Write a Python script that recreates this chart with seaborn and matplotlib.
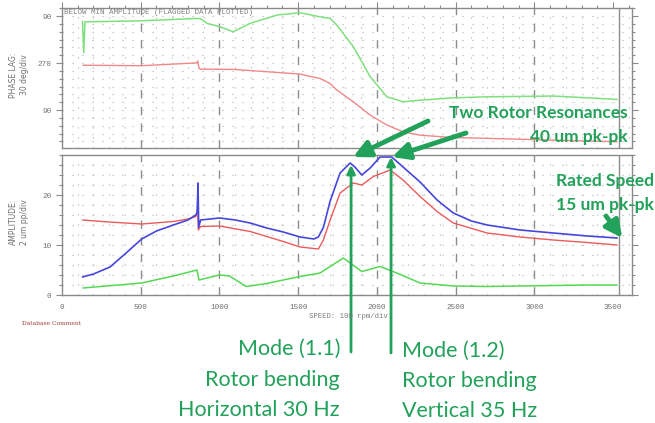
import numpy as np
import pandas as pd
import matplotlib
matplotlib.use("Agg")
import matplotlib.pyplot as plt
import seaborn as sns
from matplotlib.ticker import MultipleLocator, FixedLocator

# ---------------- data ----------------
# Phase lag (deg), top panel
phase_green_rpm = [130, 138, 146, 506, 857, 880, 921, 1000, 1087, 1194, 1366, 1512, 1639,
                   1703, 1745, 1850, 1957, 2063, 2166, 2274, 2485, 2700, 3120, 3526]
phase_green_val = [110, 230, 112, 108, 99, 100, 118, 130, 150, 118, 86, 77, 93,
                   99, 124, 207, 322, 399, 418, 412, 403, 399, 396, 409]

phase_red_rpm = [133, 506, 857, 862, 870, 877, 1087, 1302, 1512, 1639, 1703, 1745, 1850,
                 1957, 2063, 2166, 2274, 2485, 2700, 3120, 3526]
phase_red_val = [278, 280, 269, 262, 290, 293, 294, 303, 312, 329, 348, 373, 418,
                 469, 507, 533, 546, 555, 558, 565, 571]

# Amplitude (um pp), bottom panel
amp_blue_rpm = [130, 200, 305, 400, 506, 600, 707, 800, 850, 858, 864, 868, 880, 1000,
                1100, 1195, 1300, 1405, 1512, 1600, 1628, 1660, 1703, 1766, 1830, 1860,
                1904, 1957, 2020, 2094, 2166, 2274, 2382, 2485, 2600, 2700, 2910, 3120,
                3335, 3526]
amp_blue_val = [3.6, 4.2, 5.6, 8.2, 11.2, 12.8, 14.0, 15.0, 16.0, 16.5, 22.4, 13.5, 15.0, 15.4,
                15.0, 14.4, 13.4, 12.6, 11.6, 11.2, 11.6, 13.5, 18.8, 24.4, 26.4, 25.6,
                24.0, 25.4, 27.6, 27.6, 25.6, 22.6, 19.0, 16.4, 14.8, 14.0, 13.0, 12.4,
                11.8, 11.4]

amp_red_rpm = [130, 300, 506, 707, 800, 850, 862, 866, 880, 1000, 1195, 1405, 1512, 1628,
               1660, 1703, 1766, 1850, 1904, 1978, 2084, 2166, 2274, 2382, 2485, 2700,
               2910, 3120, 3335, 3526]
amp_red_val = [15.0, 14.6, 14.2, 14.7, 15.2, 15.7, 17.0, 13.0, 13.7, 13.8, 12.7, 10.7, 9.6, 9.2,
               11.0, 15.0, 20.4, 22.4, 22.0, 23.7, 25.0, 23.0, 19.7, 16.7, 14.4, 12.4,
               11.6, 11.0, 10.5, 10.0]

amp_green_rpm = [133, 506, 707, 857, 870, 1000, 1064, 1170, 1300, 1405, 1512, 1639, 1787,
                 1904, 2020, 2126, 2274, 2485, 2700, 2910, 3335, 3526]
amp_green_val = [1.4, 2.4, 3.8, 5.0, 3.0, 4.0, 3.8, 1.7, 2.3, 3.0, 3.7, 4.4, 7.4,
                 4.7, 5.7, 4.4, 2.4, 1.8, 1.7, 1.8, 2.0, 2.0]

x_ticks = [0, 500, 1000, 1500, 2000, 2500, 3000, 3500]
x_ticklabels = ["0", "500", "1000", "1500", "2000", "2500", "3000", "3500"]
phase_ticks = [90, 270, 450]
phase_ticklabels = ["90", "270", "90"]
amp_ticks = [0, 10, 20]
amp_ticklabels = ["0", "10", "20"]

mode_speeds = [1836, 2090]        # rpm of the two resonance peaks
mode_amps = [26.0, 27.6]
rated_speed = 3558
rated_amp = 11.4

# ---------------- style ----------------
sns.set_style("white")
plt.rcParams['font.family'] = ['Lato', 'DejaVu Sans']

G = "#21a159"
FRAME = "#8a8a8a"
TXT = "#707070"
MONO = "Liberation Mono"

W, H = 655, 423
fig = plt.figure(figsize=(W / 100, H / 100), dpi=100)
ax1 = fig.add_axes([62 / W, 1 - 148 / H, 570 / W, 140 / H])
ax2 = fig.add_axes([62 / W, 1 - 295 / H, 570 / W, 140 / H])


def px(x, y):
    return (x, H - y)


# ---------------- series ----------------
sns.lineplot(x=phase_green_rpm, y=phase_green_val, ax=ax1, color="#7fe07f", lw=1.1,
             estimator=None, sort=False)
sns.lineplot(x=phase_red_rpm, y=phase_red_val, ax=ax1, color="#f08888", lw=1.0,
             estimator=None, sort=False)

sns.lineplot(x=amp_red_rpm, y=amp_red_val, ax=ax2, color="#ec5a5a", lw=1.0,
             estimator=None, sort=False)
sns.lineplot(x=amp_blue_rpm, y=amp_blue_val, ax=ax2, color="#4646dc", lw=1.2,
             estimator=None, sort=False)
sns.lineplot(x=amp_green_rpm, y=amp_green_val, ax=ax2, color="#55d855", lw=1.1,
             estimator=None, sort=False)

# ---------------- axes cosmetics ----------------
for ax in (ax1, ax2):
    ax.set_xlim(0, 3620)
    ax.set_xlabel("")
    ax.set_ylabel("")
    for s in ax.spines.values():
        s.set_color(FRAME)
        s.set_linewidth(1.0)
    ax.xaxis.set_major_locator(FixedLocator(x_ticks))
    ax.xaxis.set_minor_locator(MultipleLocator(100))
    ax.grid(which="minor", color="#b0b0b0", lw=0.8, linestyle=(0, (1, 8)))
    ax.grid(which="major", axis="y", color="#b0b0b0", lw=0.8, linestyle=(0, (1, 8)))
    for xv in x_ticks[1:-1]:
        ax.axvline(xv, color="#8c8c8c", lw=1.0, linestyle=(0, (6, 6)), zorder=1)
    ax.axvline(3540, color="#8c8c8c", lw=1.0, zorder=1)
    ax.tick_params(which="both", colors=FRAME, labelcolor=TXT, labelsize=5.5,
                   left=True, right=True, width=0.8)
    ax.tick_params(which="major", length=4)
    ax.tick_params(which="minor", length=2.5)
    ax.set_facecolor("white")

ax1.set_ylim(595, 59)
ax1.yaxis.set_major_locator(FixedLocator(phase_ticks))
ax1.set_yticklabels(phase_ticklabels, fontfamily=MONO)
ax1.yaxis.set_minor_locator(MultipleLocator(30))
ax1.tick_params(axis="x", which="both", bottom=False, top=True, labelbottom=False,
                direction="out")
ax1.tick_params(axis="y", which="both", direction="out")

ax2.set_ylim(0, 28)
ax2.yaxis.set_major_locator(FixedLocator(amp_ticks))
ax2.set_yticklabels(amp_ticklabels, fontfamily=MONO)
ax2.yaxis.set_minor_locator(MultipleLocator(2))
ax2.set_xticklabels(x_ticklabels, fontfamily=MONO)
ax2.tick_params(axis="x", which="both", direction="inout", top=False)
ax2.tick_params(axis="y", which="both", direction="out")
ax2.tick_params(axis="x", which="major", length=7, pad=3)
ax2.tick_params(axis="x", which="minor", length=5)

# ---------------- plot texts ----------------
fig.text(64 / W, 1 - 13 / H, "BELOW MIN AMPLITUDE (FLAGGED DATA PLOTTED)", fontfamily=MONO,
         fontsize=5.4, color="#808080", va="center", ha="left")
fig.text(348 / W, 1 - 317 / H, "SPEED: 100 rpm/div", fontfamily=MONO, fontsize=5.3,
         color="#808080", va="center", ha="center")
fig.text(22 / W, 1 - 323 / H, "Database Comment", fontfamily="DejaVu Serif", fontsize=4.3,
         color="#a03535", va="center", ha="left")
fig.text(19 / W, 1 - 75 / H, "PHASE LAG:\n30 deg/div", rotation=90, fontsize=5.5,
         color="#707070", va="center", ha="center", multialignment="center",
         fontfamily="DejaVu Sans")
fig.text(19 / W, 1 - 222 / H, "AMPLITUDE:\n2 um pp/div", rotation=90, fontsize=5.5,
         color="#707070", va="center", ha="center", multialignment="center",
         fontfamily="DejaVu Sans")

# ---------------- annotations ----------------
bold = dict(color=G, fontsize=12.5, fontweight="bold")
fig.text(628 / W, 1 - 113 / H, "Two Rotor Resonances", ha="right", va="center", **bold)
fig.text(628 / W, 1 - 137 / H, "40 um pk-pk", ha="right", va="center", **bold)
fig.text(556 / W, 1 - 181 / H, "Rated Speed", ha="left", va="center", **bold)
fig.text(556 / W, 1 - 205 / H, "15 um pk-pk", ha="left", va="center", **bold)

reg = dict(color=G, fontsize=15.5)
for txt, yy in zip(["Mode (1.1)", "Rotor bending", "Horizontal 30 Hz"], [349, 380, 410]):
    fig.text(340 / W, 1 - yy / H, txt, ha="right", va="center", **reg)
for txt, yy in zip(["Mode (1.2)", "Rotor bending", "Vertical 35 Hz"], [351, 381, 411]):
    fig.text(402 / W, 1 - yy / H, txt, ha="left", va="center", **reg)

thick = dict(arrowstyle="-|>,head_width=0.5,head_length=1.0", lw=3.5, color=G,
             shrinkA=0, shrinkB=0)
ax2.annotate("", xy=(1849, 27.6), xytext=px(428, 121), textcoords="figure pixels",
             arrowprops=thick, annotation_clip=False)
ax2.annotate("", xy=(2096, 27.6), xytext=px(466, 133), textcoords="figure pixels",
             arrowprops=thick, annotation_clip=False)
ax2.annotate("", xy=(rated_speed, rated_amp), xytext=px(606, 216), textcoords="figure pixels",
             arrowprops=thick, annotation_clip=False)

thin = dict(arrowstyle="-|>,head_width=0.25,head_length=0.5", lw=2.0, color=G,
            shrinkA=0, shrinkB=0)
ax2.annotate("", xy=(mode_speeds[0], mode_amps[0]), xytext=px(351, 352),
             textcoords="figure pixels", arrowprops=thin, annotation_clip=False)
ax2.annotate("", xy=(mode_speeds[1], mode_amps[1]), xytext=px(391, 353),
             textcoords="figure pixels", arrowprops=thin, annotation_clip=False)

fig.savefig("out.png", dpi=100, facecolor="white")
